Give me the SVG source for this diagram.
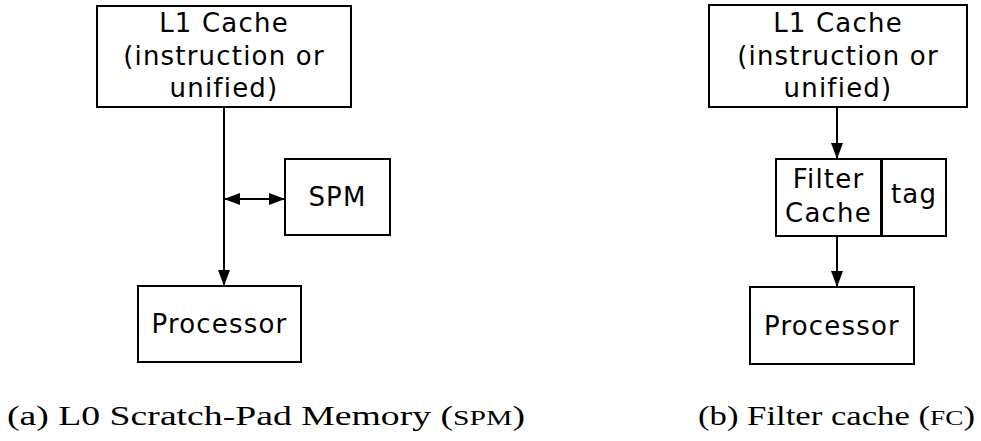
<svg xmlns="http://www.w3.org/2000/svg" width="981" height="441" viewBox="0 0 981 441">
  <style>
    .box { fill: #ffffff; stroke: #000000; stroke-width: 2; }
    .lbl { font-family: "DejaVu Sans", Verdana, sans-serif; font-size: 26px; letter-spacing: 1.2px; fill: #000000; text-anchor: middle; }
    .cap { font-family: "Liberation Serif", "DejaVu Serif", serif; font-size: 28px; fill: #000000; }
    .sc { font-size: 22px; }
    .wire { stroke: #000000; stroke-width: 2; fill: none; }
  </style>
  <defs>
    <marker id="arrow" viewBox="0 0 16 12" refX="16" refY="6" markerWidth="16" markerHeight="12" markerUnits="userSpaceOnUse" orient="auto-start-reverse">
      <path d="M0,0 L16,6 L0,12 Z" fill="#000000"/>
    </marker>
  </defs>

  <!-- (a) scratch-pad memory -->
  <g id="a-l1">
    <rect class="box" x="97" y="6" width="254" height="101"/>
    <text class="lbl" x="224" y="32">L1 Cache</text>
    <text class="lbl" x="224" y="65">(instruction or</text>
    <text class="lbl" x="224" y="97">unified)</text>
  </g>
  <g id="a-spm">
    <rect class="box" x="285" y="159" width="105" height="76"/>
    <text class="lbl" x="337.5" y="206">SPM</text>
  </g>
  <g id="a-proc">
    <rect class="box" x="138" y="286" width="163" height="76"/>
    <text class="lbl" x="219.5" y="333">Processor</text>
  </g>

  <!-- (b) filter cache -->
  <g id="b-l1">
    <rect class="box" x="709" y="5" width="258" height="102"/>
    <text class="lbl" x="838" y="32">L1 Cache</text>
    <text class="lbl" x="838" y="65">(instruction or</text>
    <text class="lbl" x="838" y="97">unified)</text>
  </g>
  <g id="b-fc">
    <rect class="box" x="776" y="159" width="105" height="77"/>
    <text class="lbl" x="828.5" y="188">Filter</text>
    <text class="lbl" x="828.5" y="222">Cache</text>
  </g>
  <g id="b-tag">
    <rect class="box" x="882" y="159" width="64" height="77"/>
    <text class="lbl" x="914" y="203">tag</text>
  </g>
  <g id="b-proc">
    <rect class="box" x="750" y="287" width="164" height="77"/>
    <text class="lbl" x="832" y="335">Processor</text>
  </g>

  <g id="connectors">
    <line class="wire" x1="224" y1="107" x2="224" y2="286" marker-end="url(#arrow)"/>
    <line class="wire" x1="224" y1="199" x2="285" y2="199" marker-start="url(#arrow)" marker-end="url(#arrow)"/>
    <line class="wire" x1="837" y1="107" x2="837" y2="159" marker-end="url(#arrow)"/>
    <line class="wire" x1="837" y1="236" x2="837" y2="287" marker-end="url(#arrow)"/>
  </g>

  <g id="captions">
    <text class="cap" x="7" y="425" textLength="518" lengthAdjust="spacingAndGlyphs">(a) L0 Scratch-Pad Memory (<tspan class="sc">SPM</tspan>)</text>
    <text class="cap" x="698" y="425" textLength="277" lengthAdjust="spacingAndGlyphs">(b) Filter cache (<tspan class="sc">FC</tspan>)</text>
  </g>
</svg>
